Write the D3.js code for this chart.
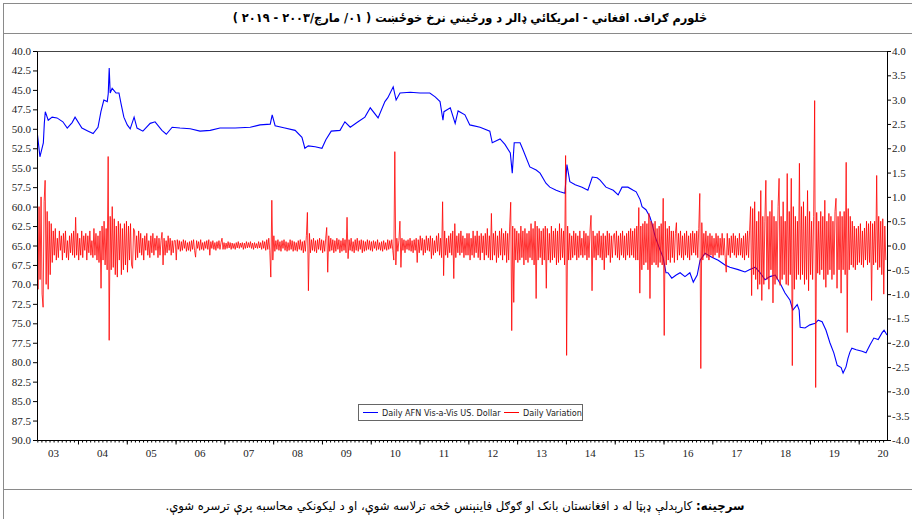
<!DOCTYPE html>
<html><head><meta charset="utf-8">
<script src="https://cdn.jsdelivr.net/npm/d3@7"></script>
<style>body{margin:0;background:#fff}svg{display:block}</style>
</head><body>
<svg id="c" width="912" height="519"></svg>
<script>
// ---------------- DATA ----------------
const titleText = "څلورم ګراف. افغاني - امریکائي ډالر د ورځیني نرخ خوځښت ( ۰۱/ مارچ/۲۰۰۳ - ۲۰۱۹ )";
const sourceBold = "سرچینه:";
const sourceRest = " کارېدلې ډېټا له د افغانستان بانک او ګوګل فاینېنس څخه ترلاسه شوې، او د لیکونکي محاسبه پرې ترسره شوې.";
const seriesNames = ["Daily AFN Vis-a-Vis US. Dollar", "Daily Variation"];
const leftTicks = [40,42.5,45,47.5,50,52.5,55,57.5,60,62.5,65,67.5,70,72.5,75,77.5,80,82.5,85,87.5,90];
const rightTicks = [4,3.5,3,2.5,2,1.5,1,0.5,0,-0.5,-1,-1.5,-2,-2.5,-3,-3.5,-4];
const yearLabels = ["03","04","05","06","07","08","09","10","11","12","13","14","15","16","17","18","19","20"];
const yearValues = [2003,2004,2005,2006,2007,2008,2009,2010,2011,2012,2013,2014,2015,2016,2017,2018,2019,2020];

// Blue: exchange rate (AFN per USD), left axis — [decimal year], [value]
const blueDates = [2003.16,2003.22,2003.29,2003.31,2003.33,2003.39,2003.47,2003.57,2003.69,2003.78,2003.88,2003.94,
2004.08,2004.21,2004.31,2004.41,2004.47,2004.53,2004.60,2004.62,2004.64,2004.66,2004.70,2004.78,2004.84,2004.88,2004.94,
2005.01,2005.07,2005.15,2005.21,2005.33,2005.48,2005.58,2005.72,2005.81,2005.93,
2006.09,2006.30,2006.50,2006.71,2006.91,2007.22,2007.53,2007.73,2007.94,2007.98,
2008.04,2008.24,2008.45,2008.59,2008.65,2008.72,2008.86,2009.00,2009.08,2009.19,2009.37,2009.47,2009.58,2009.74,2009.88,2009.99,
2010.15,2010.29,2010.35,2010.46,2010.52,2010.60,2010.81,2011.01,2011.21,2011.32,2011.42,2011.48,2011.50,2011.63,2011.73,2011.79,2011.93,
2012.03,2012.24,2012.44,2012.49,2012.65,2012.75,2012.86,2012.90,2012.94,2013.06,2013.12,2013.26,2013.39,2013.47,2013.59,2013.67,2013.80,2013.88,2013.98,
2014.02,2014.08,2014.19,2014.33,2014.45,2014.54,2014.64,2014.70,2014.82,2014.97,
2015.07,2015.15,2015.27,2015.38,2015.44,2015.52,2015.56,2015.64,2015.72,2015.76,2015.83,2015.93,2015.99,
2016.05,2016.09,2016.17,2016.26,2016.34,2016.44,2016.54,2016.61,2016.69,2016.75,2016.85,2016.99,
2017.12,2017.26,2017.36,2017.53,2017.67,2017.77,2017.88,2017.98,
2018.08,2018.18,2018.29,2018.41,2018.49,2018.59,2018.65,2018.74,2018.78,2018.80,2018.90,
2019.00,2019.11,2019.17,2019.25,2019.33,2019.41,2019.49,2019.56,2019.64,2019.68,2019.74,2019.78,2019.82,2019.86,2019.95,
2020.07,2020.15,2020.23,2020.31,2020.40,2020.48,2020.52,2020.58];
const blueValues = [50.2,53.6,51.8,49.3,47.8,48.9,48.5,48.6,49.1,49.9,49.2,48.5,
49.9,50.3,50.6,49.8,47.8,46.3,46.5,45.5,42.2,45.4,44.8,45.4,45.4,46.7,48.5,
49.5,50.0,48.5,49.9,50.3,49.3,49.1,50.2,50.7,49.8,
49.9,50.0,50.3,50.2,49.9,49.9,49.8,49.5,49.4,48.2,
49.6,49.9,50.2,51.1,52.5,52.2,52.3,52.5,51.4,50.3,50.2,49.1,49.8,49.1,48.5,47.3,
48.6,46.5,46.0,44.6,46.3,45.4,45.3,45.4,45.4,45.9,46.5,48.9,47.8,47.3,49.3,47.7,48.2,
49.5,49.8,50.3,51.8,51.3,52.0,53.1,55.7,51.8,51.8,52.7,54.9,55.3,55.7,57.0,57.5,57.9,58.1,58.3,
54.6,56.8,57.2,57.5,57.9,56.2,56.3,56.6,57.5,57.9,
58.5,57.5,57.5,57.9,58.1,59.1,60.0,60.4,61.3,62.1,63.9,65.6,66.5,
68.5,68.5,69.2,68.8,68.5,69.0,68.5,69.7,68.8,66.9,66.0,66.5,
66.9,67.5,67.8,68.1,68.4,68.1,67.8,68.5,
69.4,69.0,68.8,70.1,71.1,72.0,73.3,72.6,73.3,75.5,75.6,
75.2,75.0,74.6,74.8,75.9,77.5,78.8,80.4,80.7,81.4,80.6,79.5,78.7,78.2,78.4,
78.6,78.8,77.8,76.9,77.1,76.2,75.9,76.5];

// Red: daily variation, right axis — weekly readings (48 per year) from Mar 2003
const redStart = 2003.16, redPerYear = 48;
const red2003 = [0.6,-0.9,0.8,-0.7,1.0,-1.0,-1.27,0.9,1.34,-0.8,0.7,-0.9,0.5,-0.6,0.45,-0.35,0.3,-0.2,0.35,-0.3,0.15,-0.25,0.3,-0.1,0.2,-0.3,0.25,-0.15,0.3,-0.25,0.1,-0.3,0.2,-0.15,0.25,-0.2,0.3,-0.25,0.58,-0.2];
const red2004 = [0.25,-0.3,0.15,-0.2,0.3,-0.25,0.2,-0.1,0.25,-0.3,0.2,-0.15,0.3,-0.2,0.1,-0.25,0.35,-0.2,0.25,-0.3,0.2,-0.35,0.3,-0.88,0.4,-0.3,0.5,-0.4,0.35,-0.5,1.83,-1.95,0.6,-0.5,0.8,-0.45,0.55,-0.6,0.4,-0.65,0.5,-0.3,0.45,-0.6,0.35,-0.5,0.45,-0.4];
const red2005 = [0.5,-0.55,0.4,-0.3,0.45,-0.4,-0.47,0.35,0.3,-0.3,0.2,-0.25,0.3,-0.15,0.25,-0.2,0.15,-0.3,0.2,-0.1,0.25,-0.2,0.1,-0.25,0.2,-0.15,0.25,-0.2,0.15,-0.1,0.2,-0.25,0.15,-0.2,0.1,0.27,-0.4,0.15,-0.2,0.1,-0.15,0.2,-0.1,0.15,-0.2,0.1,-0.15,0.1];
const red2006 = [0.1,-0.3,0.12,-0.08,0.1,-0.12,0.08,-0.1,0.12,-0.06,0.1,-0.12,0.06,-0.1,0.08,-0.12,0.1,-0.08,0.12,-0.1,-0.24,0.1,-0.06,0.08,-0.1,0.12,-0.08,0.06,-0.1,0.08,-0.06,0.1,-0.08,0.12,-0.2,0.08,-0.06,0.1,-0.08,0.06,-0.1,0.08,-0.06,0.1,-0.08,0.06,0.15,-0.08];
const red2007 = [0.06,-0.08,0.05,-0.06,0.08,-0.05,0.06,-0.08,0.05,-0.06,0.04,-0.08,0.06,-0.05,0.08,-0.06,0.05,-0.04,0.06,-0.08,0.05,-0.06,0.08,-0.05,0.06,-0.04,0.08,-0.06,0.05,-0.08,0.06,-0.05,0.04,-0.06,0.08,-0.05,0.06,-0.08,0.1,-0.06,0.08,-0.1,0.12,-0.08,0.15,-0.1,-0.65,0.93];
const red2008 = [-0.3,0.2,-0.12,0.1,-0.08,0.12,-0.1,0.08,-0.12,0.1,-0.06,0.12,-0.1,0.08,-0.12,0.06,-0.1,0.12,-0.08,0.1,-0.12,0.08,-0.1,0.06,-0.12,0.1,-0.08,0.12,-0.1,0.08,-0.15,0.1,-0.12,0.2,0.68,-0.93,0.25,-0.15,0.12,-0.1,0.15,-0.12,0.1,-0.15,0.12,-0.08,0.15,-0.1];
const red2009 = [0.12,-0.15,0.1,-0.12,0.15,0.37,-0.55,0.2,-0.12,0.15,-0.1,0.12,-0.15,0.1,-0.12,0.15,-0.08,0.12,-0.15,0.1,-0.12,0.15,-0.1,0.12,-0.15,0.58,-0.27,0.12,-0.1,0.15,-0.12,0.08,-0.15,0.12,-0.1,0.15,-0.12,0.1,-0.08,0.12,-0.15,0.1,-0.12,0.08,-0.1,0.12,-0.08,0.1];
const red2010 = [-0.1,0.08,-0.12,0.1,-0.06,0.08,-0.1,0.12,-0.08,0.06,-0.1,0.08,-0.12,0.1,-0.08,0.06,-0.1,0.12,-0.08,0.1,-0.06,0.12,-0.1,-0.3,1.93,-0.4,0.15,-0.12,0.1,0.5,-0.45,0.15,-0.1,0.12,-0.15,0.1,-0.08,0.12,-0.1,0.15,-0.12,0.1,-0.15,0.12,-0.1,0.15,-0.35,0.12];
const red2011 = [-0.15,0.2,-0.1,0.15,-0.2,0.12,-0.15,0.2,-0.1,0.15,-0.12,0.2,-0.27,0.15,-0.2,0.1,-0.15,0.2,-0.12,0.25,-0.2,0.15,-0.25,0.9,-0.62,0.3,-0.2,0.15,-0.25,0.2,-0.15,0.25,-0.2,0.3,-0.68,0.45,-0.25,0.2,-0.15,0.25,-0.2,0.3,-0.15,0.2,-0.25,0.15,-0.2,0.25];
const red2012 = [-0.2,0.25,-0.3,0.15,-0.2,0.3,-0.25,0.2,-0.15,0.3,-0.25,0.2,-0.3,0.25,-0.15,0.2,-0.3,0.25,-0.2,0.35,-0.25,0.2,-0.3,0.66,-0.3,0.25,-0.2,0.3,-0.35,0.2,-0.25,0.3,-0.2,0.35,-0.3,0.25,-0.2,0.3,-0.35,0.25,-0.3,0.4,0.89,-1.75,0.4,-1.17,0.35,-0.3];
const red2013 = [0.3,-0.35,0.25,-0.3,0.4,-0.25,0.3,-0.4,0.35,-0.3,0.25,-0.35,0.3,-0.25,0.45,-0.3,0.35,-0.4,0.5,-1.09,0.4,-0.3,0.35,-0.25,0.3,-0.4,0.35,-0.3,0.4,-0.88,0.35,-0.3,0.25,-0.35,0.4,-0.3,0.3,-0.25,0.35,-0.4,0.3,-0.35,0.45,-0.3,0.35,-0.25,0.3,-0.4];
const red2014 = [1.85,-2.26,0.4,-0.3,0.25,-0.3,0.2,-0.25,0.3,-0.2,0.25,-0.3,0.2,-0.25,0.3,-0.2,0.15,-0.25,0.3,-0.2,0.25,-0.3,0.2,-0.25,0.3,0.62,-0.93,0.3,-0.25,0.2,-0.3,0.25,-0.2,0.3,-0.25,0.2,-0.3,0.25,-0.5,0.2,-0.25,0.3,-0.2,0.25,-0.35,0.2,-0.25,0.2];
const red2015 = [0.25,-0.2,0.3,-0.25,0.2,-0.3,0.25,-0.2,0.3,-0.25,0.2,-0.3,0.25,-0.2,0.3,-0.25,0.35,-0.2,0.3,-0.25,0.35,-0.3,0.4,-0.3,0.78,-0.98,0.4,-0.5,0.45,-0.4,0.5,-0.35,0.45,-0.5,0.66,-1.09,0.5,-0.4,0.45,-0.35,0.5,-0.4,0.35,-0.45,0.4,-0.35,0.45,-0.4];
const red2016 = [0.97,-1.85,0.5,-0.4,0.35,-0.3,0.4,-0.35,0.3,-0.25,0.3,-0.35,0.25,0.47,-0.3,0.25,-0.2,0.3,-0.25,0.2,-0.3,0.25,-0.2,0.3,-0.25,0.2,-0.3,0.25,-0.2,0.3,-0.15,0.25,-0.2,0.3,-0.25,0.35,1.07,-2.53,0.47,-0.3,0.25,-0.2,0.3,-0.25,0.2,-0.3,0.25,-0.2];
const red2017 = [0.2,-0.25,0.15,-0.2,0.25,-0.15,0.2,-0.25,0.15,-0.2,0.25,-0.2,0.15,-0.25,-0.55,0.25,-0.2,0.15,-0.25,0.2,-0.15,0.25,-0.2,0.2,-0.25,0.15,-0.2,0.25,-0.2,0.15,-0.25,0.2,-0.3,0.25,-0.2,0.3,-0.25,0.3,0.8,-1.03,0.76,-0.6,0.9,-0.7,0.5,-0.9,0.7,-0.8];
const red2018 = [1.13,-1.13,0.6,-0.8,0.5,1.34,-0.7,0.6,-0.9,0.7,-0.5,0.93,-1.18,0.6,-0.8,0.5,-0.7,0.8,1.38,-0.82,0.6,-0.7,0.9,-0.6,0.5,-0.8,1.48,-0.82,0.7,-0.6,1.38,-2.47,0.8,-0.9,0.6,-0.7,0.5,-0.6,1.69,-0.7,0.8,-0.6,0.9,-0.8,0.6,-0.7,1.13,-0.93];
const red2019 = [0.7,-0.6,0.5,-0.7,0.6,2.98,-2.92,0.68,-0.57,0.5,-0.6,0.7,-0.5,0.6,-0.7,0.93,-0.86,0.5,-0.6,0.66,-0.5,0.6,-0.7,0.5,-0.6,0.7,0.97,-0.88,0.6,-0.5,0.7,-0.98,0.6,-0.5,0.7,-0.6,1.71,-1.79,0.76,-0.5,0.6,-0.4,0.5,-0.45,0.4,-0.5,0.35,-0.4];
const red2020 = [0.4,-0.35,0.45,-0.4,0.3,-0.45,0.36,-0.3,0.5,-0.4,0.45,-0.35,0.5,-1.13,0.45,-0.4,0.5,-0.35,1.44,-0.5,0.6,-0.45,0.5,-0.6,0.55,-1.0,0.4,-0.3];

// ---------------- DRAW ----------------
const redValues = [].concat(red2003,red2004,red2005,red2006,red2007,red2008,red2009,red2010,red2011,red2012,
  red2013,red2014,red2015,red2016,red2017,red2018,red2019,red2020);
const redDates = redValues.map((v,i) => redStart + i / redPerYear);
const blue = blueDates.map((d,i) => ({t:d, v:blueValues[i]}));
const red = redDates.map((d,i) => ({t:d, v:redValues[i]}));

const W = 912, H = 519;
const X0 = 37, X1 = 887, Y0 = 51, Y1 = 440;
const svg = d3.select("#c");
const x = d3.scaleLinear().domain([2003.16, 2020.58]).range([X0, X1]);
const yL = d3.scaleLinear().domain([40, 90]).range([Y0, Y1]);
const yR = d3.scaleLinear().domain([4, -4]).range([Y0, Y1]);

// outer frame
const frame = svg.append("g").attr("stroke", "#8a8a8a").attr("stroke-width", 1).attr("fill", "none");
frame.append("line").attr("x1", 3.5).attr("x2", 3.5).attr("y1", 3).attr("y2", H);
frame.append("line").attr("x1", 3).attr("x2", W).attr("y1", 3.5).attr("y2", 3.5);
frame.append("line").attr("x1", 3).attr("x2", W).attr("y1", 33.5).attr("y2", 33.5);
frame.append("line").attr("x1", 3).attr("x2", W).attr("y1", 489.5).attr("y2", 489.5);

function fitWidth(sel, cx, target) {
  const w = sel.node().getComputedTextLength();
  const s = target / w;
  sel.attr("transform", `translate(${cx},0) scale(${s},1) translate(${-cx},0)`);
}
// title
const title = svg.append("text").attr("x", 470).attr("y", 22)
  .attr("direction", "rtl").attr("text-anchor", "middle")
  .attr("font-family", "DejaVu Sans").attr("font-weight", "bold").attr("font-size", 12.5).attr("fill", "#000")
  .text(titleText);
fitWidth(title, 470, 475);

// source
const src = svg.append("text").attr("x", 455).attr("y", 510)
  .attr("direction", "rtl").attr("text-anchor", "middle")
  .attr("font-family", "DejaVu Sans").attr("font-size", 12).attr("fill", "#000");
src.append("tspan").attr("font-weight", "bold").text(sourceBold);
src.append("tspan").text(sourceRest);
fitWidth(src, 455, 580);

// clip
svg.append("clipPath").attr("id", "clip").append("rect")
  .attr("x", X0).attr("y", Y0).attr("width", X1 - X0).attr("height", Y1 - Y0);

// series
const lineB = d3.line().x(d => x(d.t)).y(d => yL(d.v));
const lineR = d3.line().x(d => x(d.t)).y(d => yR(d.v));
svg.append("path").datum(blue).attr("d", lineB).attr("fill", "none")
  .attr("stroke", "#0000ff").attr("stroke-width", 1.1).attr("clip-path", "url(#clip)");
svg.append("path").datum(red).attr("d", lineR).attr("fill", "none")
  .attr("stroke", "#ff0000").attr("stroke-width", 0.8).attr("stroke-linejoin", "bevel")
  .attr("clip-path", "url(#clip)");

// top frame line
svg.append("line").attr("x1", X0).attr("x2", X1).attr("y1", Y0 + 0.5).attr("y2", Y0 + 0.5)
  .attr("stroke", "#444").attr("stroke-width", 1.2);

// axes
const fmt = d => d.toFixed(1);
const axL = svg.append("g").attr("transform", `translate(${X0},0)`)
  .call(d3.axisLeft(yL).tickValues(leftTicks).tickFormat(fmt).tickSize(4).tickSizeOuter(0).tickPadding(2));
const axR = svg.append("g").attr("transform", `translate(${X1},0)`)
  .call(d3.axisRight(yR).tickValues(rightTicks).tickFormat(fmt).tickSize(4).tickSizeOuter(0).tickPadding(1));
[axL, axR].forEach(a => {
  a.selectAll("text").attr("font-family", "Liberation Serif").attr("font-size", 11).attr("fill", "#222");
  a.select(".domain").attr("stroke", "#000");
});

// bottom axis: monthly minor ticks + yearly ticks
const monthTicks = [];
yearValues.forEach(yv => { for (let m = 0; m < 12; m++) { const t = yv + m / 12; if (t >= 2003.16 && t <= 2020.58) monthTicks.push(t); } });
const axBm = svg.append("g").attr("transform", `translate(0,${Y1})`)
  .call(d3.axisBottom(x).tickValues(monthTicks).tickFormat("").tickSize(2.5).tickSizeOuter(0));
axBm.select(".domain").attr("stroke", "#000");
const axBy = svg.append("g").attr("transform", `translate(0,${Y1})`)
  .call(d3.axisBottom(x).tickValues(yearValues.filter(v => v > 2003.16)).tickFormat("").tickSize(4.5).tickSizeOuter(0));
axBy.select(".domain").remove();
svg.append("g").selectAll("text").data(yearLabels).join("text")
  .attr("x", (d, i) => x(yearValues[i] + 0.5)).attr("y", 457)
  .attr("text-anchor", "middle").attr("font-family", "Liberation Serif").attr("font-size", 11).attr("fill", "#222")
  .text(d => d);

// legend
const lg = svg.append("g");
lg.append("rect").attr("x", 358.5).attr("y", 404.5).attr("width", 224).attr("height", 16)
  .attr("fill", "#fff").attr("stroke", "#666");
const legendColors = ["#0000ff", "#ff0000"];
const legendX = [363, 504];
seriesNames.forEach((n, i) => {
  lg.append("line").attr("x1", legendX[i]).attr("x2", legendX[i] + 15).attr("y1", 412.5).attr("y2", 412.5)
    .attr("stroke", legendColors[i]).attr("stroke-width", 1);
  lg.append("text").attr("x", legendX[i] + 19).attr("y", 416).attr("font-family", "DejaVu Sans Condensed, Liberation Sans Narrow, Liberation Sans")
    .attr("font-size", 9).attr("fill", "#222").text(n);
});
</script>
</body></html>
